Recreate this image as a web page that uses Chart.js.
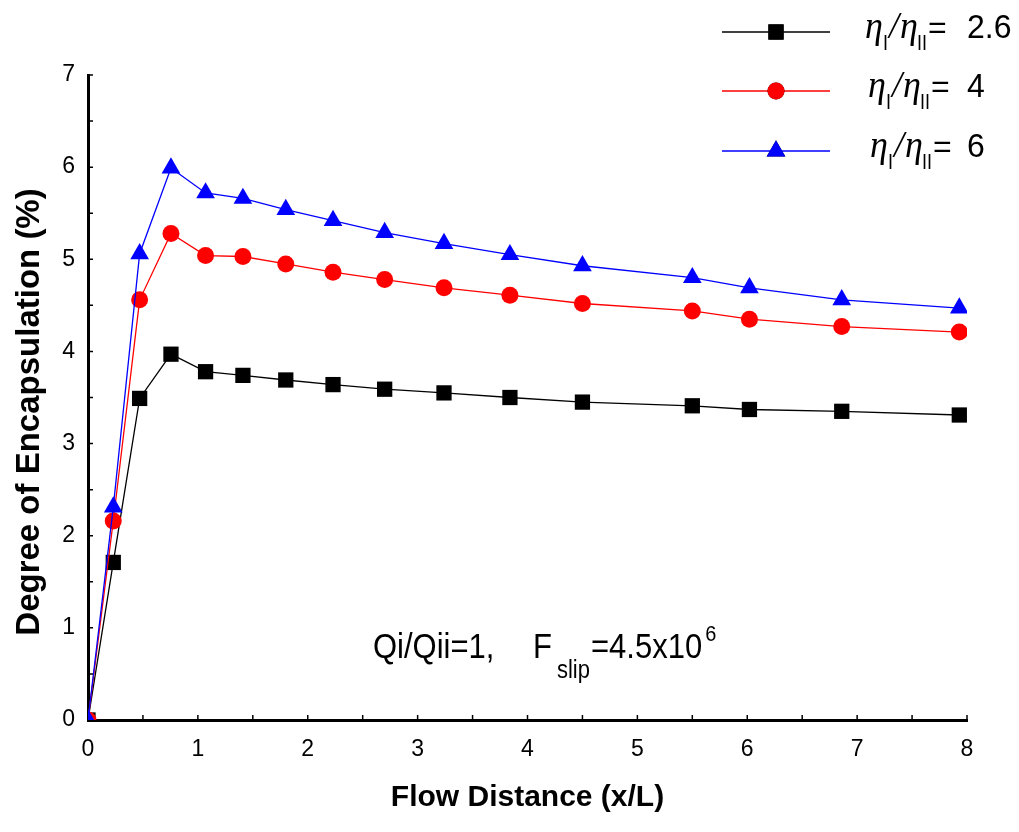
<!DOCTYPE html>
<html lang="en">
<head>
<meta charset="UTF-8">
<title>Degree of Encapsulation vs Flow Distance</title>
<style>
  body { margin: 0; background: #fff; }
  #wrap { width: 1019px; height: 832px; position: relative; }
</style>
<script src="https://cdn.jsdelivr.net/npm/chart.js"></script>
</head>
<body>
<div id="wrap"><canvas id="chart"></canvas></div>
<script>
// data
var flowDistance = [0, 0.23, 0.47, 0.755, 1.07, 1.41, 1.80, 2.23, 2.70, 3.24, 3.84, 4.50, 5.50, 6.02, 6.86, 7.93];
var ratio26 = [0, 1.71, 3.49, 3.97, 3.78, 3.74, 3.69, 3.64, 3.59, 3.55, 3.50, 3.45, 3.41, 3.37, 3.35, 3.31];
var ratio4  = [0, 2.16, 4.56, 5.28, 5.04, 5.03, 4.95, 4.86, 4.78, 4.69, 4.61, 4.52, 4.44, 4.35, 4.27, 4.21];
var ratio6  = [0, 2.31, 5.06, 5.99, 5.72, 5.66, 5.54, 5.42, 5.29, 5.17, 5.05, 4.93, 4.80, 4.69, 4.56, 4.47];
var ratioLabels = ['2.6', '4', '6'];
var xTitle = 'Flow Distance (x/L)';
var yTitle = 'Degree of Encapsulation (%)';

function pts(ys) {
  return flowDistance.map(function (x, i) { return { x: x, y: ys[i] }; });
}

var sans = '"Liberation Sans", Arial, sans-serif';
var serif = '"Liberation Serif", "Times New Roman", serif';

// write text a bit taller than wide, like the original
function tall(ctx, t, x, y, font, sy) {
  ctx.font = font;
  ctx.save();
  ctx.translate(x, y);
  ctx.scale(1, sy || 1);
  ctx.fillText(t, 0, 0);
  ctx.restore();
  return x + ctx.measureText(t).width;
}

var extras = {
  id: 'extras',
  afterDraw: function (chart) {
    var ctx = chart.ctx, xs = chart.scales.x, ys = chart.scales.y;
    ctx.save();
    ctx.fillStyle = '#000';
    ctx.strokeStyle = '#000';

    // small inner ticks every 0.5
    ctx.lineWidth = 1.5;
    ctx.beginPath();
    for (var v = 0.5; v <= 8; v += 0.5) {
      var px = xs.getPixelForValue(v);
      ctx.moveTo(px, ys.bottom); ctx.lineTo(px, ys.bottom - 5);
    }
    for (var w = 0.5; w <= 7; w += 0.5) {
      var py = ys.getPixelForValue(w);
      ctx.moveTo(xs.left, py); ctx.lineTo(xs.left + 5, py);
    }
    ctx.stroke();

    // axis titles
    ctx.textBaseline = 'middle';
    ctx.textAlign = 'center';
    ctx.font = 'bold 30px ' + sans;
    ctx.fillText(xTitle, (xs.left + xs.right) / 2, 798);
    ctx.save();
    ctx.translate(30, 412);
    ctx.rotate(-Math.PI / 2);
    ctx.font = 'bold 33px ' + sans;
    ctx.fillText(yTitle, 0, 0);
    ctx.restore();

    // annotation
    ctx.textAlign = 'left';
    ctx.textBaseline = 'alphabetic';
    var big = '31px ' + sans, small = '22px ' + sans;
    tall(ctx, 'Qi/Qii=1,', 373, 658, big, 1.15);
    var fx = tall(ctx, 'F', 533, 658, big, 1.15);
    var sx = tall(ctx, 'slip', fx + 5, 678, small, 1.2);
    var ex = tall(ctx, '=4.5x10', sx + 1, 658, big, 1.15);
    tall(ctx, '6', ex + 3, 641, '20px ' + sans, 1.1);

    // legend
    var rows = [
      { y: 32, color: '#000', style: 'rect', tx: 865 },
      { y: 91, color: '#ff0000', style: 'circle', tx: 868 },
      { y: 151, color: '#0000ff', style: 'triangle', tx: 870 }
    ];
    var eta = 'italic 36px ' + serif, sub = '18px ' + sans;
    rows.forEach(function (r, i) {
      ctx.strokeStyle = r.color;
      ctx.lineWidth = 1.3;
      ctx.beginPath();
      ctx.moveTo(722, r.y); ctx.lineTo(830, r.y);
      ctx.stroke();
      Chart.helpers.drawPoint(ctx, {
        pointStyle: r.style,
        radius: r.style === 'circle' ? 8.5 : 10.8,
        rotation: 0,
        borderWidth: 0
      }, 776, r.y);
      ctx.fillStyle = r.color;
      ctx.fill();
      ctx.fillStyle = '#000';
      var base = r.y + 6, t = r.tx;
      tall(ctx, '\u03b7', t, base, eta, 1.05);
      tall(ctx, 'I', t + 18, base + 12, sub, 1.25);
      tall(ctx, '/', t + 24, base, eta, 1.05);
      tall(ctx, '\u03b7', t + 35, base, eta, 1.05);
      tall(ctx, 'II', t + 52, base + 12, sub, 1.25);
      tall(ctx, '=', t + 63, base, '32px ' + sans, 1);
      tall(ctx, ratioLabels[i], 967, base, '32px ' + sans, 1.05);
    });
    ctx.restore();
  }
};

var tickFont = { family: sans, size: 23 };

new Chart(document.getElementById('chart'), {
  type: 'line',
  data: {
    datasets: [
      {
        label: '2.6', data: pts(ratio26), order: 3,
        borderColor: '#000', backgroundColor: '#000', borderWidth: 1.3,
        pointStyle: 'rect', pointRadius: 10.8, pointBorderWidth: 0
      },
      {
        label: '4', data: pts(ratio4), order: 2,
        borderColor: '#ff0000', backgroundColor: '#ff0000', borderWidth: 1.3,
        pointStyle: 'circle', pointRadius: 8.5, pointBorderWidth: 0
      },
      {
        label: '6', data: pts(ratio6), order: 1,
        borderColor: '#0000ff', backgroundColor: '#0000ff', borderWidth: 1.3,
        pointStyle: 'triangle', pointRadius: 10.8, pointBorderWidth: 0
      }
    ]
  },
  options: {
    responsive: true,
    maintainAspectRatio: false,
    animation: false,
    layout: { padding: { top: 75, right: 52, left: 0, bottom: 0 } },
    plugins: { legend: { display: false }, tooltip: { enabled: false } },
    elements: { line: { tension: 0 } },
    scales: {
      x: {
        type: 'linear', min: 0, max: 8,
        grid: { display: false, drawTicks: false },
        border: { color: '#000', width: 3 },
        ticks: { stepSize: 1, color: '#000', font: tickFont, padding: 16, maxRotation: 0 },
        afterFit: function (s) { s.height = 112; }
      },
      y: {
        min: 0, max: 7,
        grid: { display: false, drawTicks: false },
        border: { color: '#000', width: 3 },
        ticks: { stepSize: 1, color: '#000', font: tickFont, padding: 13 },
        afterFit: function (s) { s.width = 88; }
      }
    }
  },
  plugins: [extras]
});
</script>
</body>
</html>
